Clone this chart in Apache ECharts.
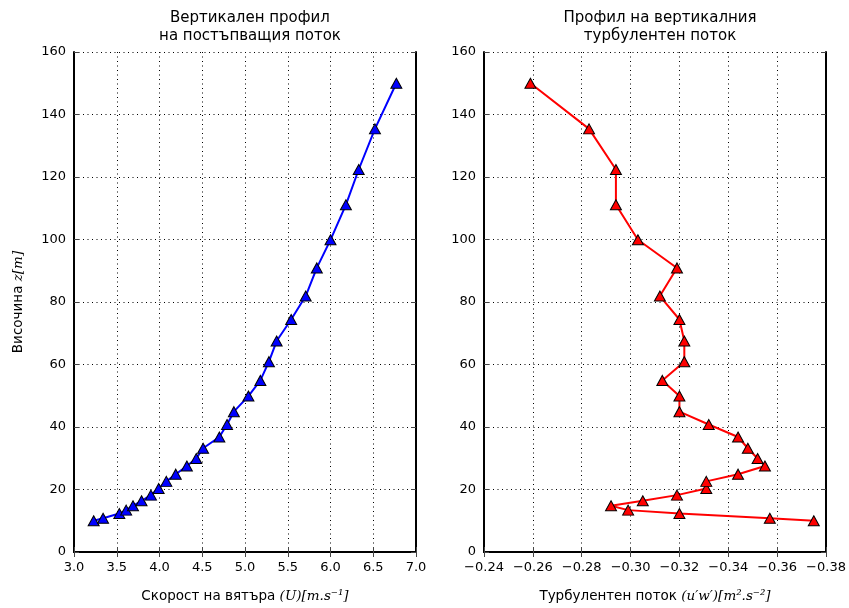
<!DOCTYPE html>
<html>
<head>
<meta charset="utf-8">
<script src="https://cdn.jsdelivr.net/npm/echarts@6/dist/echarts.min.js"></script>
<style>
html,body{margin:0;padding:0;background:#fff;}
#chart{width:849px;height:608px;}
</style>
</head>
<body>
<div id="chart"></div>
<script>
// Heights z [m]
const heights = [10, 10.8, 12.3, 13.4, 14.8, 16.4, 18.2, 20.3, 22.6, 24.9, 27.5, 29.9, 33.2, 36.8, 40.8, 44.9, 49.9, 54.9, 60.9, 67.5, 74.4, 81.9, 90.9, 99.9, 111.1, 122.4, 135.4, 150];
// Wind speed U [m/s]
const windSpeed = [3.23, 3.34, 3.53, 3.61, 3.69, 3.79, 3.90, 3.99, 4.08, 4.19, 4.32, 4.43, 4.51, 4.70, 4.79, 4.87, 5.04, 5.18, 5.28, 5.37, 5.54, 5.71, 5.84, 6.00, 6.18, 6.33, 6.52, 6.77];
// Turbulent flux u'w' [m2/s2]
const turbFlux = [-0.375, -0.357, -0.320, -0.299, -0.292, -0.305, -0.319, -0.331, -0.331, -0.344, -0.355, -0.352, -0.348, -0.344, -0.332, -0.320, -0.320, -0.313, -0.322, -0.322, -0.320, -0.312, -0.319, -0.303, -0.294, -0.294, -0.283, -0.259];
const yTicks = [0, 160, 20];

const titles = ['Вертикален профил\nна постъпващия поток', 'Профил на вертикалния\nтурбулентен поток'];

const FONT = 'DejaVu Sans';
const chart = echarts.init(document.getElementById('chart'));

const frameLine = {show: true, lineStyle: {color: '#000', width: 2}};
const tick = {show: true, inside: true, length: 5, lineStyle: {color: '#444', width: 1}};
const grid = {show: true, lineStyle: {color: '#000', width: 1, type: [1, 3.5]}};
const label = {color: '#000', fontFamily: FONT, fontSize: 13};
const minus = v => (v < 0 ? '\u2212' : '') + Math.abs(v).toFixed(2);

const mathRich = {
  t: {fontFamily: FONT, fontSize: 13.5, color: '#000'},
  m: {fontFamily: 'DejaVu Serif', fontStyle: 'italic', fontSize: 13.5, color: '#000'}
};

function xAx(gi, min, max, interval, fmt, name, inverse) {
  return [{
    type: 'value', gridIndex: gi, min, max, interval, inverse: !!inverse, position: 'bottom',
    axisLine: frameLine, axisTick: tick, splitLine: grid,
    axisLabel: Object.assign({margin: 9, formatter: fmt}, label),
    name, nameLocation: 'middle', nameGap: 37,
    nameTextStyle: {rich: mathRich}
  }, {
    type: 'value', gridIndex: gi, min, max, interval, inverse: !!inverse, position: 'top',
    axisLine: frameLine, axisTick: tick, splitLine: {show: false}, axisLabel: {show: false}
  }];
}
function yAx(gi, name) {
  return [{
    type: 'value', gridIndex: gi, min: yTicks[0], max: yTicks[1], interval: yTicks[2], position: 'left',
    axisLine: frameLine, axisTick: tick, splitLine: grid,
    axisLabel: Object.assign({margin: 8}, label),
    name: name || '', nameLocation: 'middle', nameGap: 49, nameRotate: 90,
    nameTextStyle: {rich: mathRich}
  }, {
    type: 'value', gridIndex: gi, min: yTicks[0], max: yTicks[1], interval: yTicks[2], position: 'right',
    axisLine: frameLine, axisTick: tick, splitLine: {show: false}, axisLabel: {show: false}
  }];
}

const option = {
  animation: false,
  backgroundColor: '#fff',
  title: [
    {text: titles[0], left: 245, top: 4, textAlign: 'center',
     textStyle: {fontFamily: FONT, fontSize: 15, fontWeight: 'normal', color: '#000', lineHeight: 18}},
    {text: titles[1], left: 655, top: 4, textAlign: 'center',
     textStyle: {fontFamily: FONT, fontSize: 15, fontWeight: 'normal', color: '#000', lineHeight: 18}}
  ],
  grid: [
    {left: 74, top: 52, width: 342, height: 501},
    {left: 484, top: 52, width: 342, height: 501}
  ],
  xAxis: [
    ...xAx(0, 3, 7, 0.5, v => v.toFixed(1), '{t|Скорост на вятъра }{m|(U)[m.s⁻¹]}', false),
    ...xAx(1, -0.38, -0.24, 0.02, minus, '{t|Турбулентен поток }{m|(u′w′)[m².s⁻²]}', true)
  ],
  yAxis: [
    ...yAx(0, '{t|Височина }{m|z[m]}'),
    ...yAx(1, '')
  ],
  series: [
    {
      type: 'line', xAxisIndex: 0, yAxisIndex: 0,
      data: windSpeed.map((x, i) => [x, heights[i]]),
      lineStyle: {color: '#0000ff', width: 2},
      symbol: 'triangle', symbolSize: [11, 10],
      itemStyle: {color: '#0000ff', borderColor: '#000', borderWidth: 1},
      z: 3
    },
    {
      type: 'line', xAxisIndex: 2, yAxisIndex: 2,
      data: turbFlux.map((x, i) => [x, heights[i]]),
      lineStyle: {color: '#ff0000', width: 2},
      symbol: 'triangle', symbolSize: [11, 10],
      itemStyle: {color: '#ff0000', borderColor: '#000', borderWidth: 1},
      z: 3
    }
  ]
};
chart.setOption(option);
</script>
</body>
</html>
